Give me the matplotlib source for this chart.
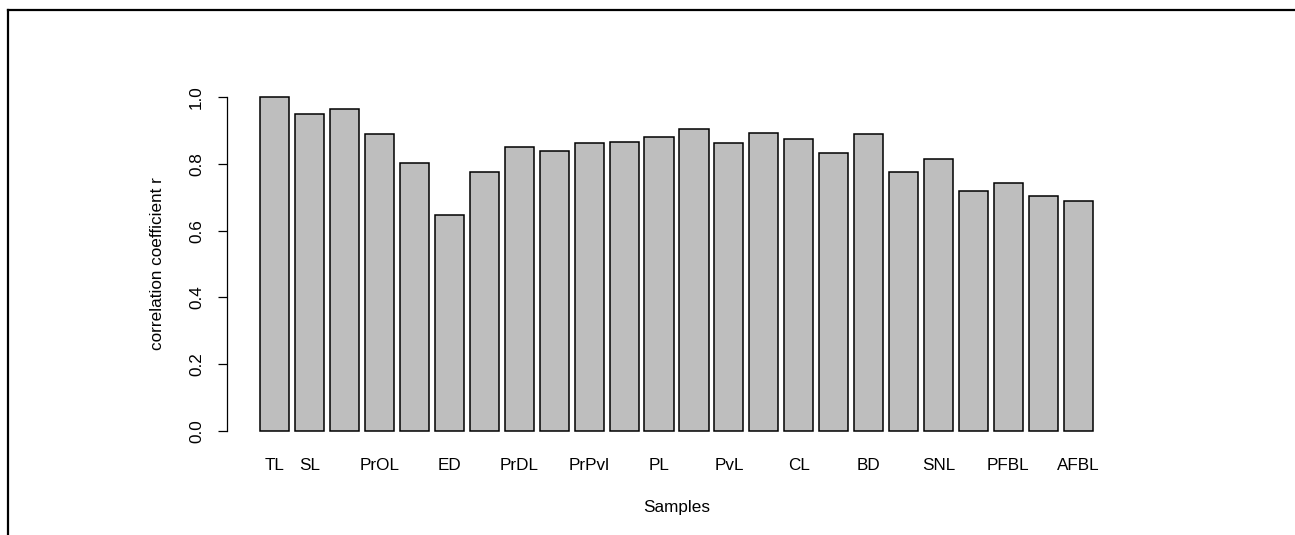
import matplotlib
matplotlib.use("Agg")
import matplotlib.pyplot as plt
from matplotlib.lines import Line2D
import numpy as np

plt.rcParams['font.family'] = ['Liberation Sans', 'DejaVu Sans']

#--------data------------------------------------#
samples = ["TL", "SL", "", "PrOL", "", "ED", "", "PrDL", "", "PrPvl", "", "PL",
           "", "PvL", "", "CL", "", "BD", "", "SNL", "", "PFBL", "", "AFBL"]
corr_r = [1.000, 0.949, 0.964, 0.888, 0.802, 0.648, 0.775, 0.851, 0.838, 0.862,
          0.864, 0.880, 0.905, 0.862, 0.893, 0.874, 0.831, 0.888, 0.774, 0.815,
          0.719, 0.741, 0.705, 0.690]
yticks = [0.0, 0.2, 0.4, 0.6, 0.8, 1.0]
#------------------------------------------------#

W, H = 1295, 535
fig = plt.figure(figsize=(W / 100, H / 100), dpi=100)
fs = 12.3

# plot region, R style
left, right, top, bottom = 227, 1126, 83.6, 444.4
ax = fig.add_axes([left / W, 1 - bottom / H, (right - left) / W, (bottom - top) / H])

# barplot positions like R: width 1, space 0.2
n = len(corr_r)
xpos = 0.7 + 1.2 * np.arange(n)
ax.bar(xpos, corr_r, width=1.0, color="#BEBEBE", edgecolor="black", linewidth=1.1)

lo, hi = xpos[0] - 0.5, xpos[-1] + 0.5
ext = 0.04 * (hi - lo)
ax.set_xlim(lo - ext, hi + ext)
ax.set_ylim(-0.04, 1.04)

for s in ["top", "right", "bottom"]:
    ax.spines[s].set_visible(False)
ax.spines["left"].set_bounds(0, 1)
ax.spines["left"].set_linewidth(0.9)

ax.set_yticks(yticks)
ax.set_yticklabels([f"{v:.1f}" for v in yticks], rotation=90, va="center")
ax.tick_params(axis="y", direction="out", length=6.5, width=0.9, pad=10, labelsize=fs)

ax.set_xticks(xpos)
ax.set_xticklabels(samples)
ax.tick_params(axis="x", length=0, pad=10, labelsize=fs)

ax.set_xlabel("Samples", fontsize=fs)
ax.xaxis.set_label_coords(0.5, -0.176)
ax.xaxis.label.set_va("center")
ax.set_ylabel("correlation coefficient r", fontsize=fs)
ax.yaxis.set_label_coords(-0.0768, 0.5)
ax.yaxis.label.set_va("center")

# outer frame (left and top only)
fig.add_artist(Line2D([8 / W, 8 / W], [0, 1 - 10 / H], transform=fig.transFigure,
                      color="black", linewidth=1.6))
fig.add_artist(Line2D([8 / W, 1], [1 - 10 / H, 1 - 10 / H], transform=fig.transFigure,
                      color="black", linewidth=1.6))

fig.savefig("out.png", dpi=100)
